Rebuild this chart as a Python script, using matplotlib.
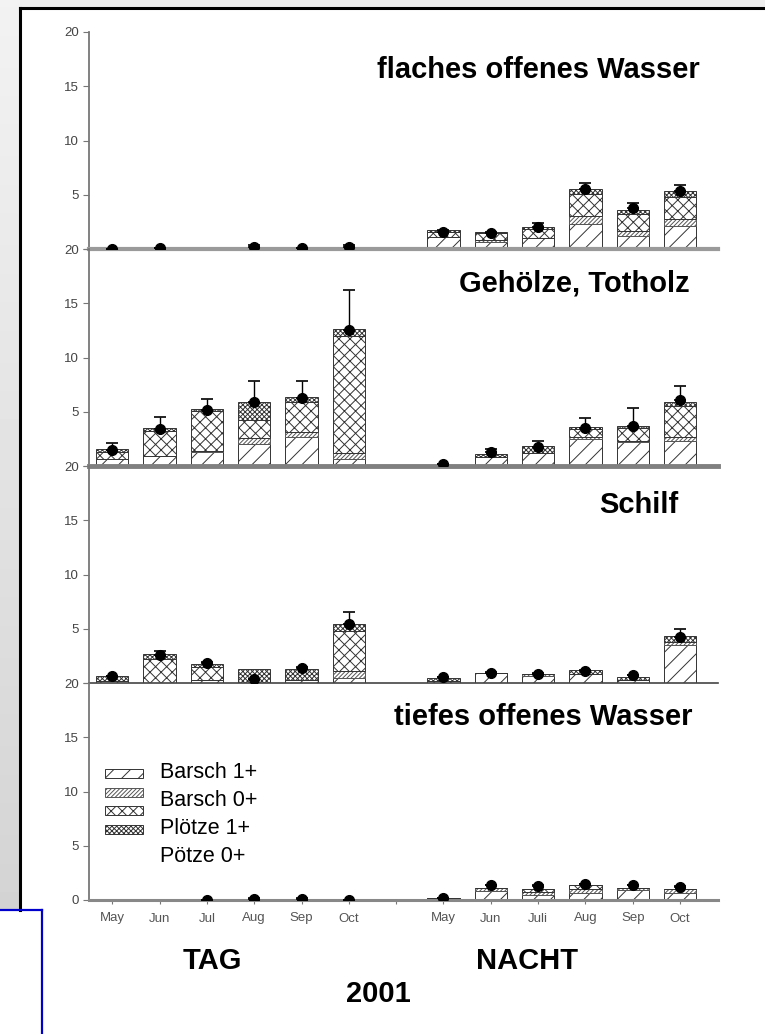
import numpy as np
import matplotlib.pyplot as plt
from matplotlib.patches import Rectangle
from matplotlib.lines import Line2D

plt.rcParams['font.family'] = ['Liberation Sans', 'DejaVu Sans']
plt.rcParams['hatch.linewidth'] = 0.7

W, H = 765, 1034

# --- data, 6 day months then 6 night months ---
months_tag = ['May', 'Jun', 'Jul', 'Aug', 'Sep', 'Oct']
months_nacht = ['May', 'Jun', 'Juli', 'Aug', 'Sep', 'Oct']
series = ['Barsch 1+', 'Barsch 0+', 'Plötze 1+', 'Pötze 0+']
habitats = ['flaches offenes Wasser', 'Gehölze, Totholz', 'Schilf', 'tiefes offenes Wasser']

flach_b1 = [0, 0, 0, 0, 0, 0, 1.1, 0.6, 1.0, 2.3, 1.2, 2.1]
flach_b0 = [0, 0, 0, 0, 0, 0, 0.0, 0.2, 0.0, 0.7, 0.5, 0.7]
flach_p1 = [0, 0, 0, 0, 0, 0, 0.5, 0.7, 0.8, 2.1, 1.5, 2.0]
flach_p0 = [0, 0, 0, 0, 0, 0, 0.15, 0.1, 0.25, 0.45, 0.4, 0.5]
flach_mean = [0.0, 0.05, np.nan, 0.15, 0.05, 0.15, 1.6, 1.5, 2.0, 5.5, 3.75, 5.35]
flach_top = [0.0, 0.05, np.nan, 0.35, 0.05, 0.35, 1.75, 1.6, 2.4, 6.1, 4.2, 5.9]

holz_b1 = [0.6, 0.9, 1.3, 2.0, 2.7, 0.6, 0.1, 0.8, 1.2, 2.5, 2.2, 2.3]
holz_b0 = [0.0, 0.0, 0.1, 0.6, 0.4, 0.6, 0.0, 0.0, 0.0, 0.2, 0.1, 0.4]
holz_p1 = [0.7, 2.3, 3.7, 1.6, 2.8, 10.8, 0.0, 0.0, 0.0, 0.7, 1.2, 2.8]
holz_p0 = [0.3, 0.3, 0.15, 1.7, 0.5, 0.65, 0.0, 0.35, 0.65, 0.2, 0.2, 0.4]
holz_mean = [1.45, 3.4, 5.15, 5.9, 6.3, 12.55, 0.15, 1.3, 1.75, 3.5, 3.7, 6.1]
holz_top = [2.1, 4.5, 6.2, 7.8, 7.85, 16.2, 0.15, 1.55, 2.3, 4.4, 5.3, 7.4]

schilf_b1 = [0.2, 0.0, 0.3, 0.0, 0.3, 0.5, 0.2, 0.95, 0.6, 0.8, 0.3, 3.5]
schilf_b0 = [0.0, 0.0, 0.0, 0.0, 0.0, 0.6, 0.0, 0.0, 0.25, 0.0, 0.0, 0.3]
schilf_p1 = [0.0, 2.2, 1.2, 0.0, 0.0, 3.7, 0.0, 0.0, 0.0, 0.0, 0.0, 0.0]
schilf_p0 = [0.4, 0.45, 0.25, 1.25, 0.95, 0.65, 0.25, 0.0, 0.0, 0.4, 0.25, 0.5]
schilf_mean = [0.6, 2.6, 1.8, 0.35, 1.35, 5.4, 0.55, 0.95, 0.85, 1.1, 0.7, 4.2]
schilf_top = [0.6, 2.95, 1.9, 0.35, 1.45, 6.55, 0.55, 1.0, 0.9, 1.2, 0.75, 4.95]

tief_b1 = [0, 0, 0, 0, 0, 0, 0.15, 0.8, 0.5, 0.6, 0.9, 0.6]
tief_b0 = [0, 0, 0, 0, 0, 0, 0.0, 0.3, 0.2, 0.4, 0.25, 0.4]
tief_p1 = [0, 0, 0, 0, 0, 0, 0.0, 0.0, 0.3, 0.4, 0.0, 0.0]
tief_p0 = [0, 0, 0, 0, 0, 0, 0.0, 0.0, 0.0, 0.0, 0.0, 0.0]
tief_mean = [np.nan, np.nan, 0.0, 0.05, 0.05, 0.0, 0.2, 1.35, 1.3, 1.45, 1.35, 1.2]
tief_top = [np.nan, np.nan, 0.0, 0.15, 0.15, 0.0, 0.2, 1.4, 1.35, 1.5, 1.4, 1.25]

panels = [
    (flach_b1, flach_b0, flach_p1, flach_p0, flach_mean, flach_top),
    (holz_b1, holz_b0, holz_p1, holz_p0, holz_mean, holz_top),
    (schilf_b1, schilf_b0, schilf_p1, schilf_p0, schilf_mean, schilf_top),
    (tief_b1, tief_b0, tief_p1, tief_p0, tief_mean, tief_top),
]

hatches = ['//', '////////', 'xxx', 'xxxxxxx']
edges = ['#333333', '#555555', '#333333', '#333333']

x = np.r_[0:6, 7:13]


def fx(px):
    return px / W


def fy(py):
    return 1 - py / H


fig = plt.figure(figsize=(W / 100, H / 100), dpi=100)
fig.patch.set_facecolor('white')

# grey page background + gradient strip on the left
bg = fig.add_axes([0, fy(910), fx(20), fy(0) - fy(910)])
grad = np.linspace(0.95, 0.83, 256).reshape(-1, 1)
bg.imshow(grad, aspect='auto', cmap='gray', vmin=0, vmax=1, extent=[0, 1, 0, 1], origin='upper')
bg.set_axis_off()
fig.patches.append(Rectangle((fx(20), fy(8)), 1, fy(0) - fy(8), transform=fig.transFigure,
                             facecolor='#eeeeee', edgecolor='none', zorder=0))
fig.lines.append(Line2D([fx(20), 1], [fy(8), fy(8)], transform=fig.transFigure, color='black', lw=2.2))
fig.lines.append(Line2D([fx(20), fx(20)], [fy(910), fy(8)], transform=fig.transFigure, color='black', lw=2.2))
fig.lines.append(Line2D([0, fx(42)], [fy(910), fy(910)], transform=fig.transFigure, color='#0000cc', lw=1.6))
fig.lines.append(Line2D([fx(42), fx(42)], [fy(910), 0], transform=fig.transFigure, color='#0000cc', lw=1.6))

tops = [32, 249, 466, 683]
ph = 217
base_styles = [('#9a9a9a', 3.0), ('#808080', 3.5), ('#444444', 1.2), ('#888888', 2.2)]
title_pos = [(700, 70), (690, 283), (678, 505), (692, 717)]

for i, (b1, b0, p1, p0, mean, top) in enumerate(panels):
    ax = fig.add_axes([fx(89), fy(tops[i] + ph), fx(718) - fx(89), ph / H])
    ax.set_facecolor('none')
    ax.set_xlim(-0.49, 12.8)
    ax.set_ylim(0, 20)
    bottom = np.zeros(12)
    for vals, h, ec in zip([b1, b0, p1, p0], hatches, edges):
        vals = np.asarray(vals, dtype=float)
        ax.bar(x, vals, 0.68, bottom=bottom, facecolor='white', edgecolor=ec,
               hatch=h, linewidth=0.7, zorder=2)
        bottom = bottom + vals
    mean = np.asarray(mean, dtype=float)
    top = np.asarray(top, dtype=float)
    ok = ~np.isnan(mean)
    err = top[ok] - mean[ok]
    ax.errorbar(x[ok], mean[ok], yerr=[np.zeros(ok.sum()), err], fmt='o', ms=7,
                color='black', ecolor='black', elinewidth=1.0, capsize=4, capthick=1.2, zorder=4)

    for s in ['top', 'right']:
        ax.spines[s].set_visible(False)
    ax.spines['left'].set_color('#777777')
    ax.spines['left'].set_linewidth(1.3)
    c, lw = base_styles[i]
    ax.spines['bottom'].set_color(c)
    ax.spines['bottom'].set_linewidth(lw)
    ax.spines['bottom'].set_zorder(3)

    ax.set_yticks([0, 5, 10, 15, 20])
    if i == 3:
        ax.set_yticklabels(['0', '5', '10', '15', '20'])
        ax.set_xticks(np.arange(13))
        ax.set_xticklabels(months_tag + [''] + months_nacht)
        ax.tick_params(axis='x', length=3, color='#777777', labelsize=9.5,
                       labelcolor='#555555', pad=6)
    else:
        ax.set_yticklabels(['', '5', '10', '15', '20'])
        ax.set_xticks([])
    ax.tick_params(axis='y', length=4, color='#777777', labelsize=9.5,
                   labelcolor='#444444', pad=3)

    tx, ty = title_pos[i]
    fig.text(fx(tx), fy(ty), habitats[i], ha='right', va='center',
             fontsize=21, fontweight='bold')

# legend drawn by hand: patches and labels on separate spacing
patch_y = [773, 792, 810, 829]
label_y = [772, 800, 829, 857]
for name, h, ec, py, ly in zip(series, hatches, edges, patch_y, label_y):
    fig.patches.append(Rectangle((fx(105), fy(py + 4.5)), fx(143) - fx(105), 9 / H,
                                 transform=fig.transFigure, facecolor='white',
                                 edgecolor=ec, hatch=h, linewidth=0.7))
    fig.text(fx(160), fy(ly), name, ha='left', va='center', fontsize=15.5)

fig.text(fx(212), fy(961), 'TAG', ha='center', va='center', fontsize=21, fontweight='bold')
fig.text(fx(527), fy(961), 'NACHT', ha='center', va='center', fontsize=21, fontweight='bold')
fig.text(fx(378), fy(994), '2001', ha='center', va='center', fontsize=21, fontweight='bold')

fig.savefig('out.png', dpi=100, facecolor='white')
